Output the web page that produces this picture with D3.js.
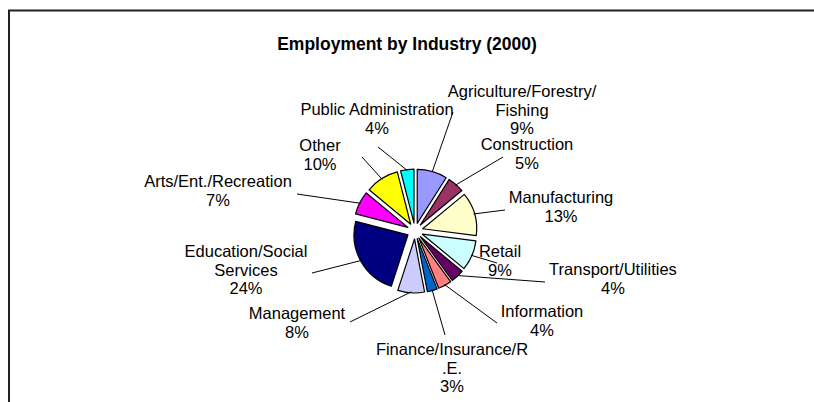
<!DOCTYPE html>
<html>
<head>
<meta charset="utf-8">
<script src="https://cdn.jsdelivr.net/npm/d3@7"></script>
<style>
  html, body { margin: 0; padding: 0; background: #fff; }
  svg { display: block; font-family: "Liberation Sans", Arial, sans-serif; }
</style>
</head>
<body>
<svg id="chart" width="814" height="402"></svg>
<script>
// Employment shares by industry, 2000 (percent of total)
const industries = [
  "Agriculture/Forestry/Fishing", "Construction", "Manufacturing", "Retail",
  "Transport/Utilities", "Information", "Finance/Insurance/R.E.", "Management",
  "Education/Social Services", "Arts/Ent./Recreation", "Other", "Public Administration"
];
const shares = [9, 5, 13, 9, 4, 4, 3, 8, 24, 7, 10, 4];
const sliceColors = [
  "#9999FF", "#993366", "#FFFFCC", "#CCFFFF", "#660066", "#FF8080",
  "#0066CC", "#CCCCFF", "#000080", "#FF00FF", "#FFFF00", "#00FFFF"
];
// Wrapped label lines, as shown beside each slice
const labelLines = [
  ["Agriculture/Forestry/", "Fishing"], ["Construction"], ["Manufacturing"], ["Retail"],
  ["Transport/Utilities"], ["Information"], ["Finance/Insurance/R", ".E."], ["Management"],
  ["Education/Social", "Services"], ["Arts/Ent./Recreation"], ["Other"], ["Public Administration"]
];

// Layout: label block centre (x, first-line y) and leader-line end point
const labelLayout = [
  { x: 522, y: 93,  lx: 453, ly: 112 },
  { x: 527, y: 146, lx: 503, ly: 157 },
  { x: 561, y: 199, lx: 505, ly: 210 },
  { x: 500, y: 253, lx: 497, ly: 263 },
  { x: 613, y: 271, lx: 545, ly: 282 },
  { x: 542, y: 313, lx: 497, ly: 323 },
  { x: 452, y: 351, lx: 445, ly: 335 },
  { x: 297, y: 315, lx: 350, ly: 322 },
  { x: 246, y: 253, lx: 312, ly: 273 },
  { x: 218, y: 183, lx: 297, ly: 194 },
  { x: 320, y: 147, lx: 362, ly: 157 },
  { x: 377, y: 111, lx: 378, ly: 147 }
];

const svg = d3.select("#chart");
const W = 814, H = 402;
const cx = 415, cy = 231, radius = 54, explode = 8;
const lineGap = 18.5;

// Chart frame (right and bottom edges fall outside the view)
svg.append("rect")
  .attr("x", 9).attr("y", 10.5)
  .attr("width", W + 20).attr("height", H + 20)
  .attr("fill", "none").attr("stroke", "#222").attr("stroke-width", 2);

svg.append("text")
  .attr("x", 407).attr("y", 45)
  .attr("text-anchor", "middle").attr("dominant-baseline", "middle")
  .attr("font-size", 17.5).attr("font-weight", "bold")
  .text("Employment by Industry (2000)");

const pie = d3.pie().sort(null).value(d => d)
  .startAngle(0).endAngle(2 * Math.PI);
const arcs = pie(shares);
const arc = d3.arc().innerRadius(0).outerRadius(radius);

const g = svg.append("g").attr("transform", `translate(${cx},${cy})`);

g.selectAll("path.slice")
  .data(arcs)
  .join("path")
  .attr("class", "slice")
  .attr("d", arc)
  .attr("transform", d => {
    const a = (d.startAngle + d.endAngle) / 2;
    return `translate(${explode * Math.sin(a)},${-explode * Math.cos(a)})`;
  })
  .attr("fill", (d, i) => sliceColors[i])
  .attr("stroke", "#000")
  .attr("stroke-width", 1.2)
  .attr("stroke-linejoin", "round");

// Leader lines from each slice's outer edge to its label
svg.append("g").selectAll("line")
  .data(arcs)
  .join("line")
  .attr("x1", d => cx + (radius + explode - 1) * Math.sin((d.startAngle + d.endAngle) / 2))
  .attr("y1", d => cy - (radius + explode - 1) * Math.cos((d.startAngle + d.endAngle) / 2))
  .attr("x2", (d, i) => labelLayout[i].lx)
  .attr("y2", (d, i) => labelLayout[i].ly)
  .attr("stroke", "#000").attr("stroke-width", 1);

// Category labels with percentage underneath
const labels = svg.append("g")
  .attr("font-size", 16.5).attr("fill", "#000").attr("text-anchor", "middle");

arcs.forEach((d, i) => {
  const pos = labelLayout[i];
  const t = labels.append("text")
    .attr("x", pos.x).attr("y", pos.y).attr("dominant-baseline", "middle");
  const lines = labelLines[i].concat([shares[i] + "%"]);
  lines.forEach((s, k) => {
    t.append("tspan").attr("x", pos.x).attr("dy", k === 0 ? 0 : lineGap).text(s);
  });
});
</script>
</body>
</html>
